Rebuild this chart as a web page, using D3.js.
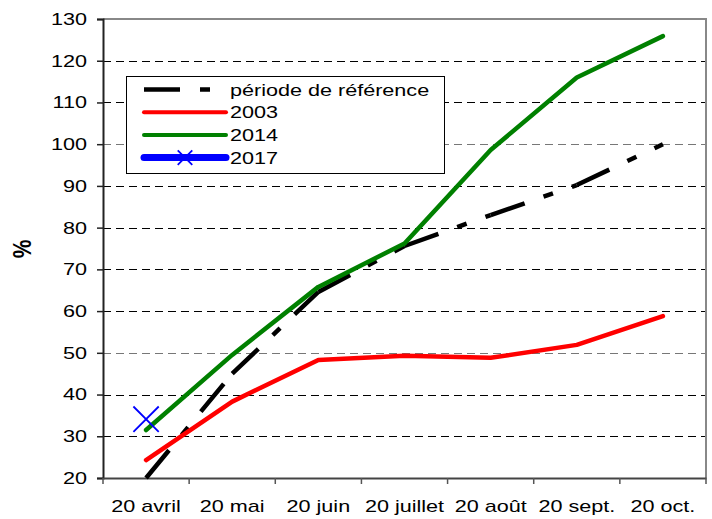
<!DOCTYPE html>
<html>
<head>
<meta charset="utf-8">
<script src="https://cdn.jsdelivr.net/npm/d3@7"></script>
<style>
  body { margin: 0; background: #fff; }
  text { font-family: Arial, "Liberation Sans", sans-serif; }
</style>
</head>
<body>
<div id="chart"></div>
<script>
// data
const months = ['20 avril', '20 mai', '20 juin', '20 juillet', '20 août', '20 sept.', '20 oct.'];
const reference = [20, 45, 64.6, 75.6, 83, 90.2, 100];
const y2003 = [24.3, 38.3, 48.3, 49.3, 48.8, 51.9, 58.8];
const y2014 = [31.5, 49.5, 65.8, 76.2, 98.6, 116, 125.9];
const y2017 = [34.1];
const yTicks = [20, 30, 40, 50, 60, 70, 80, 90, 100, 110, 120, 130];

const width = 712, height = 519;
const margin = {top: 19, right: 6, bottom: 41, left: 103};
const stretch = 1.27; // the picture's text is wider than plain Arial

const svg = d3.select('#chart').append('svg')
    .attr('width', width)
    .attr('height', height);

const x = d3.scaleBand()
    .domain(months)
    .range([margin.left, width - margin.right]);

const y = d3.scaleLinear()
    .domain([20, 130])
    .range([height - margin.bottom, margin.top]);

const cx = (d, i) => x(months[i]) + x.bandwidth() / 2;

//gridlines
svg.append('g')
    .selectAll('line')
    .data(yTicks.filter(t => t > 20 && t < 130))
    .enter().append('line')
    .attr('x1', margin.left)
    .attr('x2', width - margin.right)
    .attr('y1', d => Math.round(y(d)) + 0.5)
    .attr('y2', d => Math.round(y(d)) + 0.5)
    .attr('stroke', d => (d === 50 || d === 100) ? '#777' : '#000')
    .attr('stroke-width', 1)
    .attr('stroke-dasharray', '8,5');

//frame top / right
svg.append('path')
    .attr('d', `M${margin.left},${y(130)}H${width - margin.right}V${y(20)}`)
    .attr('fill', 'none')
    .attr('stroke', '#888')
    .attr('stroke-width', 2);

//y axis
const yAxis = svg.append('g')
    .attr('transform', `translate(${margin.left},0)`)
    .call(d3.axisLeft(y).tickValues(yTicks).tickSize(6));
yAxis.select('.domain').attr('stroke', '#222').attr('stroke-width', 2);
yAxis.selectAll('.tick line').attr('stroke', '#222').attr('stroke-width', 1.5);
yAxis.selectAll('text')
    .attr('font-size', 17)
    .attr('fill', '#000')
    .attr('x', 0)
    .attr('transform', `translate(-16,0) scale(${stretch},1)`);

//x axis, ticks at band edges
const xAxis = svg.append('g')
    .attr('transform', `translate(0,${y(20)})`)
    .call(d3.axisBottom(x).tickSize(0).tickPadding(22));
xAxis.select('.domain').attr('stroke', '#444').attr('stroke-width', 2);
xAxis.selectAll('text')
    .attr('font-size', 17)
    .attr('fill', '#000')
    .attr('transform', `scale(${stretch},1)`);
xAxis.selectAll('line.edge')
    .data(months.concat(['end']))
    .enter().append('line')
    .attr('class', 'edge')
    .attr('x1', (d, i) => i < months.length ? x(d) : x.range()[1])
    .attr('x2', (d, i) => i < months.length ? x(d) : x.range()[1])
    .attr('y1', 0)
    .attr('y2', 6)
    .attr('stroke', '#555')
    .attr('stroke-width', 1.5);

svg.append('text')
    .attr('transform', `translate(31,249) scale(${stretch},1) rotate(-90)`)
    .attr('text-anchor', 'middle')
    .attr('font-size', 21)
    .attr('font-weight', 'bold')
    .text('%');

const line = d3.line().x(d => d[0]).y(d => y(d[1]));

//reference: dash pattern restarts on each segment
const refPts = reference.map((v, i) => [cx(v, i), Math.max(v, 20)]);
svg.append('g')
    .selectAll('path')
    .data(d3.pairs(refPts))
    .enter().append('path')
    .attr('d', d => line(d))
    .attr('fill', 'none')
    .attr('stroke', '#000')
    .attr('stroke-width', 4.5)
    .attr('stroke-dasharray', '36,20,10,20');

function drawSeries(values, color) {
    svg.append('path')
        .datum(values.map((v, i) => [cx(v, i), v]))
        .attr('d', line)
        .attr('fill', 'none')
        .attr('stroke', color)
        .attr('stroke-width', 4.5)
        .attr('stroke-linecap', 'round')
        .attr('stroke-linejoin', 'round');
}
drawSeries(y2003, '#ff0000');
drawSeries(y2014, '#008000');

//2017 marker
const cross = d3.symbol().type(d3.symbolX).size(420);
svg.selectAll('.m2017')
    .data(y2017)
    .enter().append('path')
    .attr('class', 'm2017')
    .attr('transform', (d, i) => `translate(${cx(d, i)},${y(d)})`)
    .attr('d', cross)
    .attr('fill', 'none')
    .attr('stroke', '#0000ff')
    .attr('stroke-width', 1.8);

//legend
const legend = svg.append('g');
legend.append('rect')
    .attr('x', 126.5).attr('y', 76.5)
    .attr('width', 318).attr('height', 97)
    .attr('fill', '#fff')
    .attr('stroke', '#000')
    .attr('stroke-width', 1);

const legendItems = [
    {name: 'période de référence', color: '#000', dash: '36,20,10,20', w: 4.5},
    {name: '2003', color: '#ff0000', dash: null, w: 4},
    {name: '2014', color: '#008000', dash: null, w: 4},
    {name: '2017', color: '#0000ff', dash: null, w: 7}
];
const rows = legend.selectAll('g.item')
    .data(legendItems)
    .enter().append('g')
    .attr('class', 'item')
    .attr('transform', (d, i) => `translate(0,${89.5 + i * 22.7})`);
rows.append('line')
    .attr('x1', 144).attr('x2', 226)
    .attr('stroke', d => d.color)
    .attr('stroke-width', d => d.w)
    .attr('stroke-linecap', d => d.dash ? 'butt' : 'round')
    .attr('stroke-dasharray', d => d.dash);
rows.append('text')
    .attr('transform', `translate(230,0) scale(${stretch},1)`)
    .attr('dy', '0.36em')
    .attr('font-size', 17)
    .text(d => d.name);
rows.filter(d => d.name === '2017').append('path')
    .attr('transform', 'translate(185,0)')
    .attr('d', d3.symbol().type(d3.symbolX).size(140))
    .attr('fill', 'none')
    .attr('stroke', '#0000ff')
    .attr('stroke-width', 1.8);
</script>
</body>
</html>
